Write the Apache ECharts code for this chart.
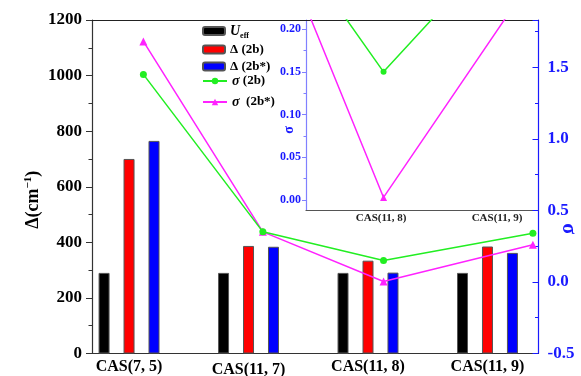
<!DOCTYPE html>
<html>
<head>
<meta charset="utf-8">
<script src="https://cdn.jsdelivr.net/npm/echarts@6/dist/echarts.min.js"></script>
<style>
  html, body { margin: 0; padding: 0; background: #fff; }
  #chart { width: 581px; height: 376px; }
</style>
</head>
<body>
<div id="chart"></div>
<script>
// Configurations (x position 1..4 = category index + 1)
const categories = ['CAS(7, 5)', 'CAS(11, 7)', 'CAS(11, 8)', 'CAS(11, 9)'];

// Energy gaps, cm^-1
const uEff = [290, 290, 290, 290];
const delta2b = [700, 387, 334, 385];
const delta2bStar = [765, 384, 291, 362];

// Relative deviation sigma, drawn at their own x positions
const sigmaPos = [1.12, 2.12, 3.13, 4.38];
const sigma2b = [1.45, 0.35, 0.15, 0.34];
const sigma2bStar = [1.68, 0.35, 0.003, 0.26];

// Tick values
const sigmaTickInterval = 0.5;
const insetTicks = [0, 0.05, 0.10, 0.15, 0.20];
const insetMinorTicks = [0.025, 0.075, 0.125, 0.175];
const insetLabelPos = [3.11, 4.08];
const insetLabels = ['CAS(11, 8)', 'CAS(11, 9)'];

const SERIF = '"Liberation Serif", "DejaVu Serif", serif';
const BLUE = '#1a1aff';
const GREEN = '#22ee22';
const MAGENTA = '#ff22ff';

const X_MIN = 0.69, X_MAX = 4.427;
const INSET_X_MIN = 2.481;

const chart = echarts.init(document.getElementById('chart'), null, { renderer: 'canvas' });

const pairs = (xs, ys) => ys.map((v, i) => [xs[i], v]);
const barData = vals => vals.map((v, i) => [i + 1, v]);

const legendText = {
  fontFamily: SERIF, fontWeight: 'bold', fontSize: 13, color: '#000',
  rich: {
    i: { fontFamily: SERIF, fontWeight: 'bold', fontStyle: 'italic', fontSize: 14, color: '#000' },
    n: { fontFamily: SERIF, fontWeight: 'bold', fontSize: 13, color: '#000' },
    sub: { fontFamily: SERIF, fontWeight: 'bold', fontSize: 8, color: '#000', padding: [9, 0, 0, 0] }
  }
};
const legendLabel = {
  'U_eff': '{i|U}{sub|eff}',
  'Δ (2b)': '{n|Δ (2b)}',
  'Δ (2b*)': '{n|Δ (2b*)}',
  'σ (2b)': '{i|σ}{n| (2b)}',
  'σ (2b*)': '{i|σ}{n|  (2b*)}'
};
const legendItem = (name, top, w, h) => ({
  data: [name], left: 202, top: top, padding: 0, itemGap: 0,
  itemWidth: w, itemHeight: h, textStyle: legendText,
  formatter: n => legendLabel[n], selectedMode: false
});

const barStyle = color => ({ color: color, borderColor: '#555', borderWidth: 1 });

chart.setOption({
  animation: false,
  backgroundColor: '#fff',
  legend: [
    legendItem('U_eff', 24, 22, 8),
    legendItem('Δ (2b)', 43, 22, 8),
    legendItem('Δ (2b*)', 60, 22, 8),
    legendItem('σ (2b)', 74, 24, 8),
    legendItem('σ (2b*)', 95, 24, 8)
  ],
  grid: [
    { left: 92, right: 42.5, top: 20, bottom: 22.5, outerBoundsMode: 'none', containLabel: false },
    { left: 306, right: 42.5, top: 20, bottom: 166, outerBoundsMode: 'none', containLabel: false }
  ],
  xAxis: [
    {
      type: 'value', gridIndex: 0, min: X_MIN, max: X_MAX, position: 'bottom',
      axisLine: { onZero: false, lineStyle: { color: '#333', width: 1.2 } },
      axisTick: { show: false },
      splitLine: { show: false },
      axisLabel: {
        customValues: [1, 2, 3, 4], margin: 5,
        fontFamily: SERIF, fontWeight: 'bold', fontSize: 16, color: '#000',
        formatter: v => {
          const i = Math.round(v) - 1;
          return i === 1 ? '{low|' + categories[i] + '}' : categories[i];
        },
        rich: { low: { fontFamily: SERIF, fontWeight: 'bold', fontSize: 16, color: '#000', padding: [3, 0, 0, 0] } }
      }
    },
    {
      type: 'value', gridIndex: 0, min: X_MIN, max: X_MAX, position: 'top',
      axisLine: { onZero: false, lineStyle: { color: '#222', width: 1.2 } },
      axisTick: { show: false }, axisLabel: { show: false }, splitLine: { show: false }
    },
    {
      type: 'value', gridIndex: 1, min: INSET_X_MIN, max: X_MAX, position: 'bottom',
      axisLine: { onZero: false, lineStyle: { color: '#555', width: 1.2 } },
      axisTick: { show: false }, splitLine: { show: false },
      axisLabel: {
        customValues: insetLabelPos, margin: 3,
        fontFamily: SERIF, fontWeight: 'bold', fontSize: 11, color: '#222',
        formatter: v => insetLabels[insetLabelPos.indexOf(v)]
      }
    }
  ],
  yAxis: [
    {
      type: 'value', gridIndex: 0, position: 'left', min: 0, max: 1200, interval: 200,
      name: '{a|Δ(cm}{sup|−1}{a|)}', nameLocation: 'middle', nameRotate: 90, nameGap: 48,
      nameMoveOverlap: false,
      nameTextStyle: {
        padding: [0, 26, 0, 0],
        rich: {
          a: { fontFamily: SERIF, fontWeight: 'bold', fontSize: 18, color: '#000' },
          sup: { fontFamily: SERIF, fontWeight: 'bold', fontSize: 11, color: '#000', padding: [0, 0, 10, 0] }
        }
      },
      axisLine: { show: true, onZero: false, lineStyle: { color: '#333', width: 1.2 } },
      axisTick: { show: true, inside: false, length: 6, lineStyle: { color: '#333' } },
      minorTick: { show: true, splitNumber: 2, length: 3.5, lineStyle: { color: '#333' } },
      splitLine: { show: false },
      axisLabel: { margin: 10, fontFamily: SERIF, fontWeight: 'bold', fontSize: 17, color: '#000',
        formatter: v => String(v) }
    },
    {
      type: 'value', gridIndex: 0, position: 'right', min: -0.5, max: 1.83, interval: sigmaTickInterval,
      name: 'σ', nameLocation: 'middle', nameRotate: -90, nameGap: 20, nameMoveOverlap: false,
      nameTextStyle: { fontFamily: SERIF, fontWeight: 'bold', fontSize: 20, color: BLUE, padding: [0, 0, 0, 84] },
      axisLine: { show: true, onZero: false, lineStyle: { color: BLUE, width: 1.2 } },
      axisTick: { show: true, inside: true, length: 6, lineStyle: { color: BLUE } },
      minorTick: { show: true, splitNumber: 2, length: 3.5, lineStyle: { color: BLUE } },
      splitLine: { show: false },
      axisLabel: {
        margin: 9, showMaxLabel: false, fontFamily: SERIF, fontWeight: 'bold', fontSize: 17, color: BLUE,
        formatter: v => v.toFixed(1)
      }
    },
    {
      type: 'value', gridIndex: 1, position: 'left', min: -0.0117, max: 0.2107,
      name: 'σ', nameLocation: 'middle', nameRotate: 90, nameGap: 10, nameMoveOverlap: false,
      nameTextStyle: { fontFamily: SERIF, fontWeight: 'bold', fontSize: 14, color: BLUE, padding: [0, 30, 0, 0] },
      axisLine: { show: true, onZero: false, lineStyle: { color: '#8080ff', width: 1.2 } },
      axisTick: { show: true, inside: false, length: 4, customValues: insetTicks, lineStyle: { color: '#8080ff' } },
      splitLine: { show: false },
      axisLabel: {
        customValues: insetTicks, margin: 5,
        fontFamily: SERIF, fontWeight: 'bold', fontSize: 12, color: BLUE,
        formatter: v => v.toFixed(2)
      }
    },
    {
      type: 'value', gridIndex: 1, position: 'left', min: -0.0117, max: 0.2107,
      axisLine: { show: false, onZero: false },
      axisTick: { show: true, inside: false, length: 2.5, customValues: insetMinorTicks, lineStyle: { color: '#8080ff' } },
      axisLabel: { show: false }, splitLine: { show: false }
    }
  ],
  series: [
    { name: 'U_eff', type: 'bar', xAxisIndex: 0, yAxisIndex: 0, barWidth: 11, barGap: '127%',
      itemStyle: barStyle('#000'), data: barData(uEff) },
    { name: 'Δ (2b)', type: 'bar', xAxisIndex: 0, yAxisIndex: 0, barWidth: 11, barGap: '127%',
      itemStyle: barStyle('#ff0000'), data: barData(delta2b) },
    { name: 'Δ (2b*)', type: 'bar', xAxisIndex: 0, yAxisIndex: 0, barWidth: 11, barGap: '127%',
      itemStyle: barStyle('#0000ff'), data: barData(delta2bStar) },
    { name: 'σ (2b)', type: 'line', xAxisIndex: 0, yAxisIndex: 1,
      symbol: 'circle', symbolSize: 7, z: 5,
      lineStyle: { color: GREEN, width: 1.5 }, itemStyle: { color: GREEN },
      data: pairs(sigmaPos, sigma2b) },
    { name: 'σ (2b*)', type: 'line', xAxisIndex: 0, yAxisIndex: 1,
      symbol: 'triangle', symbolSize: 8, z: 4,
      lineStyle: { color: MAGENTA, width: 1.5 }, itemStyle: { color: MAGENTA },
      data: pairs(sigmaPos, sigma2bStar) },
    // zoomed view near the minimum
    { name: 'σ (2b)', type: 'line', xAxisIndex: 2, yAxisIndex: 2, clip: true,
      symbol: 'circle', symbolSize: 6, z: 5,
      lineStyle: { color: GREEN, width: 1.5 }, itemStyle: { color: GREEN },
      data: pairs(sigmaPos, sigma2b) },
    { name: 'σ (2b*)', type: 'line', xAxisIndex: 2, yAxisIndex: 2, clip: true,
      symbol: 'triangle', symbolSize: 7, z: 4,
      lineStyle: { color: MAGENTA, width: 1.5 }, itemStyle: { color: MAGENTA },
      data: pairs(sigmaPos, sigma2bStar) }
  ]
});
</script>
</body>
</html>
